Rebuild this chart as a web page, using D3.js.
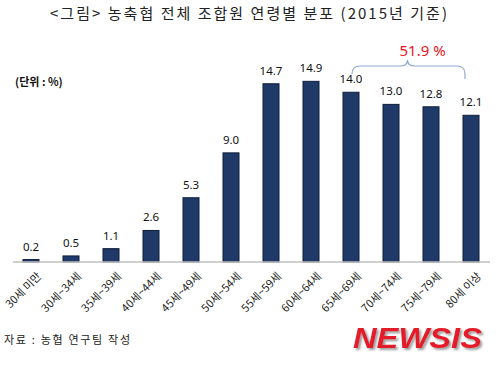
<!DOCTYPE html>
<html>
<head>
<meta charset="utf-8">
<script src="https://cdn.jsdelivr.net/npm/d3@7"></script>
<style>
  body { margin: 0; background: #fff; }
  svg { display: block; }
</style>
</head>
<body>
<svg id="chart" width="500" height="372"></svg>
<script>
// 연령대 (x축)
const ageGroups = ["30세 미만", "30세~34세", "35세~39세", "40세~44세", "45세~49세", "50세~54세",
    "55세~59세", "60세~64세", "65세~69세", "70세~74세", "75세~79세", "80세 이상"];
// 비율 (%)
const shares = [0.2, 0.5, 1.1, 2.6, 5.3, 9.0, 14.7, 14.9, 14.0, 13.0, 12.8, 12.1];
// 65세 이상 합계
const bracketFrom = 8, bracketTo = 11;
const bracketLabel = "51.9 %";

const titleText = "<그림> 농축협 전체 조합원 연령별 분포 (2015년 기준)";
const unitText = "(단위 : %)";
const sourceText = "자료 : 농협 연구팀 작성";

const svg = d3.select("#chart");
const krFont = "'Noto Sans CJK KR', 'Noto Sans', sans-serif";

const x = d3.scaleBand()
    .domain(ageGroups)
    .range([11, 491])
    .paddingInner(0.6)
    .paddingOuter(0.3);

const y = d3.scaleLinear()
    .domain([0, 16])
    .range([262, 68]);

const data = ageGroups.map((g, i) => ({ group: g, value: shares[i] }));

// 제목
svg.append("text")
    .attr("x", 50)
    .attr("y", 19)
    .attr("textLength", 397)
    .attr("lengthAdjust", "spacing")
    .style("font-family", krFont)
    .style("font-size", "15px")
    .style("fill", "#222")
    .text(titleText);

svg.append("text")
    .attr("x", 15)
    .attr("y", 86)
    .style("font-family", krFont)
    .style("font-size", "11px")
    .style("font-weight", "bold")
    .style("fill", "#111")
    .text(unitText);

// 막대
svg.append("g")
    .selectAll("rect")
    .data(data)
    .join("rect")
    .attr("x", d => x(d.group))
    .attr("y", d => y(d.value))
    .attr("width", x.bandwidth())
    .attr("height", d => y(0) - y(d.value))
    .attr("fill", "#1f3a68")
    .attr("stroke", "#0e1d3a")
    .attr("stroke-width", 1);

// 값 라벨
svg.append("g")
    .selectAll("text")
    .data(data)
    .join("text")
    .attr("x", d => x(d.group) + x.bandwidth() / 2)
    .attr("y", d => y(d.value) - 9)
    .attr("text-anchor", "middle")
    .style("font-family", "'Noto Sans', sans-serif")
    .style("font-size", "11.5px")
    .style("fill", "#111")
    .text(d => d.value.toFixed(1));

// x축
const xAxis = svg.append("g")
    .attr("transform", `translate(0,${y(0)})`)
    .call(d3.axisBottom(x).tickSize(0).tickPadding(0));
xAxis.select(".domain").remove();
svg.append("line")
    .attr("x1", 13).attr("x2", 490)
    .attr("y1", y(0)).attr("y2", y(0))
    .attr("stroke", "#c0c0c0")
    .attr("stroke-width", 1.5);

xAxis.selectAll(".tick text")
    .attr("text-anchor", "end")
    .attr("dy", 0)
    .attr("transform", "translate(11,15) rotate(-45)")
    .style("font-family", krFont)
    .style("font-size", "11px")
    .style("fill", "#222");

// 65세 이상 묶음 괄호
const bl = x(ageGroups[bracketFrom]) + x.bandwidth() / 2 + 1;
const br = x(ageGroups[bracketTo]) + x.bandwidth() / 2 - 6;
const bm = (bl + br) / 2 - 1;
const by = 66;
svg.append("path")
    .attr("d", `M${bl},74 Q${bl},${by} ${bl + 8},${by} L${bm - 7},${by} Q${bm},${by} ${bm},${by - 6}
        Q${bm},${by} ${bm + 7},${by} L${br - 8},${by} Q${br},${by} ${br},${by + 8} L${br},79`)
    .attr("fill", "none")
    .attr("stroke", "#8fa9d6")
    .attr("stroke-width", 1.2);

svg.append("text")
    .attr("x", bm - 8)
    .attr("y", 56)
    .style("font-family", "'Noto Sans', sans-serif")
    .style("font-size", "15px")
    .style("fill", "#e8141e")
    .text(bracketLabel);

// 출처
svg.append("text")
    .attr("x", 4)
    .attr("y", 344)
    .attr("textLength", 126)
    .attr("lengthAdjust", "spacing")
    .style("font-family", krFont)
    .style("font-size", "11px")
    .style("fill", "#222")
    .text(sourceText);

// 로고
const defs = svg.append("defs");
defs.append("filter")
    .attr("id", "logoShadow")
    .attr("x", "-10%").attr("y", "-20%")
    .attr("width", "130%").attr("height", "160%")
    .append("feDropShadow")
    .attr("dx", 2).attr("dy", 2)
    .attr("stdDeviation", 1.2)
    .attr("flood-color", "#777")
    .attr("flood-opacity", 0.7);

svg.append("text")
    .attr("x", 353)
    .attr("y", 348)
    .attr("textLength", 129)
    .attr("lengthAdjust", "spacingAndGlyphs")
    .attr("filter", "url(#logoShadow)")
    .style("font-family", "'Liberation Sans Narrow', 'Liberation Sans', sans-serif")
    .style("font-size", "29px")
    .style("font-weight", "bold")
    .style("font-style", "italic")
    .style("fill", "#e41b2a")
    .text("NEWSIS");
</script>
</body>
</html>
